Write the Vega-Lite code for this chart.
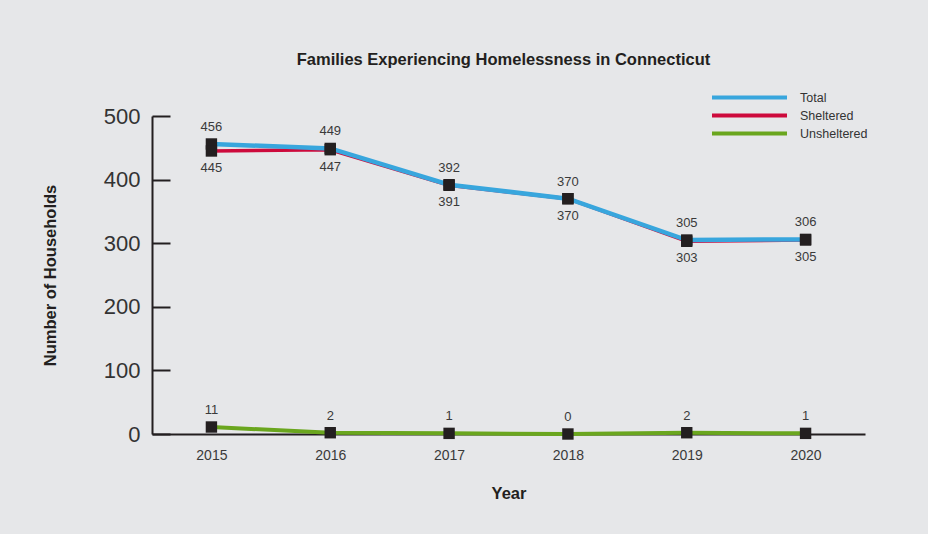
{
  "$schema": "https://vega.github.io/schema/vega-lite/v6.json",
  "autosize": "none",
  "width": 713,
  "height": 318,
  "padding": {"left": 152, "top": 116, "right": 63, "bottom": 100},
  "background": "#e6e7e9",
  "config": {
    "view": {"stroke": null},
    "font": "Liberation Sans"
  },
  "title": {
    "text": "Families Experiencing Homelessness in Connecticut",
    "fontSize": 16.5,
    "fontWeight": "bold",
    "color": "#231f20",
    "anchor": "middle",
    "offset": 22,
    "dx": -5
  },
  "data": {
    "values": [
      {"year": "2015", "series": "Total", "value": 456},
      {"year": "2016", "series": "Total", "value": 449},
      {"year": "2017", "series": "Total", "value": 392},
      {"year": "2018", "series": "Total", "value": 370},
      {"year": "2019", "series": "Total", "value": 305},
      {"year": "2020", "series": "Total", "value": 306},
      {"year": "2015", "series": "Sheltered", "value": 445},
      {"year": "2016", "series": "Sheltered", "value": 447},
      {"year": "2017", "series": "Sheltered", "value": 391},
      {"year": "2018", "series": "Sheltered", "value": 370},
      {"year": "2019", "series": "Sheltered", "value": 303},
      {"year": "2020", "series": "Sheltered", "value": 305},
      {"year": "2015", "series": "Unsheltered", "value": 11},
      {"year": "2016", "series": "Unsheltered", "value": 2},
      {"year": "2017", "series": "Unsheltered", "value": 1},
      {"year": "2018", "series": "Unsheltered", "value": 0},
      {"year": "2019", "series": "Unsheltered", "value": 2},
      {"year": "2020", "series": "Unsheltered", "value": 1}
    ]
  },
  "resolve": {"axis": {"y": "independent"}},
  "encoding": {
    "x": {
      "field": "year",
      "type": "ordinal",
      "scale": {"type": "point", "padding": 0.5},
      "axis": {
        "title": "Year",
        "titleFontSize": 16.5,
        "titleFontWeight": "bold",
        "titleColor": "#231f20",
        "titlePadding": 23,
        "labelAngle": 0,
        "labelFontSize": 14,
        "labelColor": "#3a3a3a",
        "labelPadding": 14,
        "ticks": false,
        "domainColor": "#231f20",
        "domainWidth": 2
      }
    },
    "y": {
      "field": "value",
      "type": "quantitative",
      "scale": {"domain": [0, 500], "nice": false},
      "axis": null
    }
  },
  "layer": [
    {
      "transform": [{"filter": "datum.series === 'Sheltered'"}],
      "mark": {"type": "line", "strokeWidth": 3.5},
      "encoding": {
        "y": {
          "field": "value",
          "type": "quantitative",
          "scale": {"domain": [0, 500], "nice": false},
          "axis": {
            "orient": "left",
            "title": "Number of Households",
            "titleFontSize": 16.5,
            "titleFontWeight": "bold",
            "titleColor": "#231f20",
            "titlePadding": 45,
            "values": [0, 100, 200, 300, 400, 500],
            "labelFontSize": 22,
            "labelColor": "#333333",
            "labelPadding": 12,
            "ticks": false,
            "domainColor": "#231f20",
            "domainWidth": 2,
            "grid": false
          }
        },
        "color": {
          "field": "series",
          "type": "nominal",
          "scale": {"domain": ["Total", "Sheltered", "Unsheltered"], "range": ["#38a6dd", "#cd0a3c", "#6aa61e"]},
          "legend": {
            "title": null,
            "orient": "none",
            "legendX": 558,
            "legendY": -26,
            "padding": 0,
            "symbolType": "stroke",
            "symbolSize": 5625,
            "symbolStrokeWidth": 4,
            "clipHeight": 15,
            "rowPadding": 3,
            "labelOffset": 11,
            "labelFontSize": 12.5,
            "labelColor": "#333333"
          }
        }
      }
    },
    {
      "transform": [{"filter": "datum.series === 'Total'"}],
      "mark": {"type": "line", "strokeWidth": 4.5},
      "encoding": {"color": {"field": "series", "type": "nominal"}}
    },
    {
      "transform": [{"filter": "datum.series === 'Unsheltered'"}],
      "mark": {"type": "line", "strokeWidth": 4},
      "encoding": {"color": {"field": "series", "type": "nominal"}}
    },
    {
      "mark": {"type": "point", "shape": "square", "filled": true, "size": 130, "color": "#231f20", "opacity": 1},
      "encoding": {
        "y": {
          "field": "value",
          "type": "quantitative",
          "scale": {"domain": [0, 500], "nice": false},
          "axis": {
            "orient": "right",
            "offset": -713,
            "title": null,
            "labels": false,
            "domain": false,
            "grid": false,
            "values": [0, 100, 200, 300, 400, 500],
            "ticks": true,
            "tickSize": 18,
            "tickWidth": 2,
            "tickColor": "#231f20"
          }
        }
      }
    },
    {
      "transform": [{"filter": "datum.series !== 'Sheltered'"}],
      "mark": {"type": "text", "dy": -17, "fontSize": 13, "color": "#3a3a3a"},
      "encoding": {"text": {"field": "value", "type": "quantitative"}}
    },
    {
      "transform": [{"filter": "datum.series === 'Sheltered'"}],
      "mark": {"type": "text", "dy": 17, "fontSize": 13, "color": "#3a3a3a"},
      "encoding": {"text": {"field": "value", "type": "quantitative"}}
    }
  ]
}
